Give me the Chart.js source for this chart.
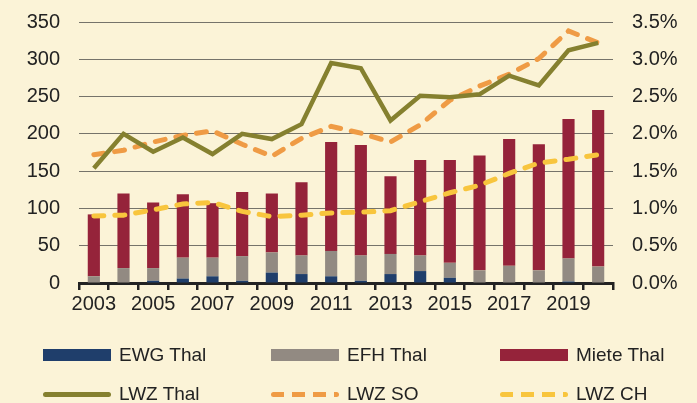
<!DOCTYPE html>
<html>
<head>
<meta charset="utf-8">
<script src="https://cdn.jsdelivr.net/npm/chart.js@4"></script>
<style>
  body { margin: 0; background: #fbf3d7; }
  #wrap { position: relative; width: 697px; height: 403px; background: #fbf3d7; }
  #myChart { position: absolute; left: 0; top: 0; }
  .leg { position: absolute; font-family: "Liberation Sans", Arial, sans-serif; font-size: 19px; color: #222; line-height: 20px; }
  .sw { position: absolute; }
</style>
</head>
<body>
<div id="wrap">
  <canvas id="myChart" width="697" height="403"></canvas>
  <div id="legend"></div>
</div>
<script>
// Jahre
const years = ['2003','2004','2005','2006','2007','2008','2009','2010','2011','2012','2013','2014','2015','2016','2017','2018','2019','2020'];

// Baubewilligungen / Wohnungen (Anzahl)
const ewgThal   = [0, 0, 3, 6, 9, 3, 14, 12, 9, 3, 12, 16, 7, 0, 0, 0, 2, 0];
const efhThal   = [9, 20, 17, 28, 25, 33, 27, 25, 34, 34, 27, 21, 20, 17, 23, 17, 31, 22];
const mieteThal = [83, 100, 88, 85, 73, 86, 79, 98, 146, 148, 104, 128, 138, 154, 170, 169, 187, 210];

// Leerwohnungsziffer in %
const lwzThal = [1.54, 2.00, 1.76, 1.95, 1.73, 2.00, 1.93, 2.13, 2.95, 2.88, 2.18, 2.51, 2.49, 2.53, 2.78, 2.65, 3.12, 3.22];
const lwzSO   = [1.72, 1.78, 1.89, 1.98, 2.04, 1.86, 1.70, 1.94, 2.10, 2.01, 1.89, 2.12, 2.45, 2.64, 2.80, 3.01, 3.38, 3.22];
const lwzCH   = [0.90, 0.91, 0.98, 1.06, 1.08, 0.96, 0.89, 0.91, 0.94, 0.95, 0.97, 1.09, 1.21, 1.31, 1.47, 1.61, 1.66, 1.72];

const colors = {
    ewg: '#1f3e6b',
    efh: '#928a82',
    miete: '#95233a',
    thal: '#85802f',
    so: '#ef9b45',
    ch: '#f8c53d'
};

const font = { family: '"Liberation Sans", Arial, sans-serif', size: 20 };

function bar(label, data, color) {
    return {
        type: 'bar', label: label, data: data, backgroundColor: color,
        yAxisID: 'y', stack: 'a', order: 2,
        barPercentage: 0.41, categoryPercentage: 1
    };
}
function line(label, data, color, dash) {
    return {
        type: 'line', label: label, data: data, borderColor: color,
        borderWidth: dash ? 5 : 4.5, borderDash: dash || [], borderCapStyle: dash ? 'round' : 'butt',
        pointRadius: 0, tension: 0, yAxisID: 'y1', order: 1, fill: false
    };
}

// vertical axes: no extra padding for half label heights
function noPad(s) { s.paddingTop = 0; s.paddingBottom = 0; }

const ctx = document.getElementById('myChart').getContext('2d');
const chart = new Chart(ctx, {
    data: {
        labels: years,
        datasets: [
            bar('EWG Thal', ewgThal, colors.ewg),
            bar('EFH Thal', efhThal, colors.efh),
            bar('Miete Thal', mieteThal, colors.miete),
            line('LWZ Thal', lwzThal, colors.thal),
            line('LWZ SO', lwzSO, colors.so, [10, 11]),
            line('LWZ CH', lwzCH, colors.ch, [10, 11])
        ]
    },
    options: {
        responsive: false,
        animation: false,
        layout: { padding: { top: 22, left: 0, right: 0, bottom: 0 } },
        plugins: { legend: { display: false }, tooltip: { enabled: false } },
        scales: {
            x: {
                stacked: true,
                offset: true,
                grid: { offset: true, drawOnChartArea: false, drawTicks: true, tickLength: 7, color: '#222', lineWidth: 2.5 },
                border: { color: '#222', width: 3 },
                ticks: {
                    color: '#222', font: font, autoSkip: false, maxRotation: 0, padding: 2,
                    callback: function(v, i) { return i % 2 === 0 ? years[i] : ''; }
                },
                afterFit: function(s) { s.height = 120; s.paddingLeft = 0; s.paddingRight = 0; }
            },
            y: {
                stacked: true, min: 0, max: 350,
                ticks: { stepSize: 50, color: '#222', font: font, padding: 19 },
                grid: { color: '#75736a', lineWidth: 1, drawTicks: false },
                border: { display: false },
                afterFit: function(s) { s.width = 79; noPad(s); }
            },
            y1: {
                position: 'right', min: 0, max: 3.5,
                ticks: { stepSize: 0.5, color: '#222', font: font, padding: 19,
                    callback: function(v) { return v.toFixed(1) + '%'; } },
                grid: { drawOnChartArea: false, drawTicks: false },
                border: { display: false },
                afterFit: function(s) { s.width = 84; noPad(s); }
            }
        }
    }
});

// Legende (HTML)
const legendItems = [
    { label: 'EWG Thal',   kind: 'box',  color: colors.ewg,   x: 43,  y: 355 },
    { label: 'EFH Thal',   kind: 'box',  color: colors.efh,   x: 271, y: 355 },
    { label: 'Miete Thal', kind: 'box',  color: colors.miete, x: 500, y: 355 },
    { label: 'LWZ Thal',   kind: 'line', color: colors.thal,  x: 43,  y: 394 },
    { label: 'LWZ SO',     kind: 'dash', color: colors.so,    x: 271, y: 394 },
    { label: 'LWZ CH',     kind: 'dash', color: colors.ch,    x: 500, y: 394 }
];
const legend = document.getElementById('legend');
legendItems.forEach(function(item) {
    const sw = document.createElement('div');
    sw.className = 'sw';
    sw.style.left = item.x + 'px';
    sw.style.width = '68px';
    if (item.kind === 'box') {
        sw.style.top = (item.y - 6) + 'px';
        sw.style.height = '12px';
        sw.style.background = item.color;
    } else if (item.kind === 'line') {
        sw.style.top = (item.y - 2.5) + 'px';
        sw.style.height = '5px';
        sw.style.borderRadius = '3px';
        sw.style.background = item.color;
    } else {
        sw.style.top = (item.y - 2.5) + 'px';
        sw.style.height = '5px';
        sw.style.background = 'repeating-linear-gradient(90deg, ' + item.color + ' 0 13px, transparent 13px 21px)';
        sw.style.borderRadius = '3px';
    }
    legend.appendChild(sw);
    const t = document.createElement('div');
    t.className = 'leg';
    t.style.left = (item.x + 76) + 'px';
    t.style.top = (item.y - 10) + 'px';
    t.textContent = item.label;
    legend.appendChild(t);
});
</script>
</body>
</html>
